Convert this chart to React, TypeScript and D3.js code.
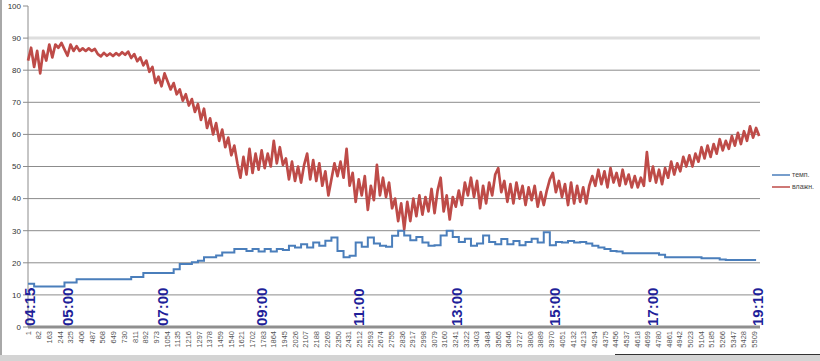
import React from "react";
import * as d3 from "d3";

const N_REC = 5550;
const HUM_STEP = 23;
const TEMP_STEP = 46;

// влажн. — sampled every 23 records
const humidity: number[] = [
  83, 87, 81, 86, 79, 86, 83, 88, 84, 88,
  87, 88.5, 86.5, 84.5, 88, 86, 87.5, 86, 86.8, 86,
  86.8, 86, 86.6, 85, 84.3, 85.4, 84.5, 85.2, 84.4, 85.3,
  84.6, 85.6, 84.8, 85.8, 83.8, 85, 82.8, 84, 81.5, 83,
  79.5, 81, 76, 78, 75, 79, 76.5, 74, 76, 72.5,
  74, 70.5, 72.5, 69, 71, 67, 69.5, 64.5, 68, 62,
  65, 60, 63.5, 58, 61.5, 56, 59, 53.5, 56.5, 51,
  46.5, 53, 47.5, 55.5, 48, 54, 49, 55, 49.5, 54,
  50, 58, 51, 56, 50.5, 52.5, 46, 51.5, 45.5, 50,
  45, 50.5, 54, 46, 52, 45.5, 51, 44, 48.5, 41,
  46, 51, 47, 51.5, 46.5, 55.5, 44, 48, 39, 46,
  41, 47, 36.5, 44, 39.5, 50.5, 41, 46.5, 40.5, 45,
  37, 40, 33, 38.5, 30.5, 39, 33, 40, 34.5, 41,
  35, 40.5, 36, 43, 35.5, 42.5, 46.5, 36, 41, 33.5,
  40.5, 37.5, 42.5, 38, 45, 41, 46.5, 40.5, 45.5, 37,
  44, 38.5, 45, 41, 47.5, 49.5, 42, 45.5, 39, 44.5,
  38.5, 45, 40, 44, 38, 43.5, 39.5, 44, 37.5, 42,
  38, 42.5, 46, 48, 42, 45.5, 40.5, 44.5, 38, 45,
  38.5, 44, 39, 43.5, 38.5, 44, 47, 44, 49, 44.5,
  48.5, 43.5, 49.5, 45, 48, 44, 49, 44.5, 47.5, 43.5,
  47, 43.5, 46.5, 44, 54.5, 45.5, 50, 45, 49, 44.5,
  49.5, 46.5, 51.5, 47.5, 51, 48.5, 53, 50, 53.5, 50,
  54, 51.5, 56, 52.5, 56.5, 53, 57, 54, 58.5, 55,
  58, 55.5, 59.5, 56.5, 60.5, 57, 61, 58, 62.5, 59, 62, 59.5,
];

// темп. — sampled every 46 records
const temperature: number[] = [
  13.5, 12.6, 12.6, 12.6, 12.6, 12.6, 13.9, 13.9, 14.9, 14.9,
  14.9, 14.9, 14.9, 14.9, 14.9, 14.9, 14.9, 15.6, 15.6, 16.8,
  16.8, 16.8, 16.8, 16.8, 18, 19.6, 19.6, 20.2, 20.6, 21.7,
  21.7, 22.3, 23.2, 23.2, 24.3, 24.3, 23.7, 24.3, 23.5, 24.3,
  23.5, 24.3, 24, 25.3, 24.8, 25.8, 24.8, 26.3, 25.3, 26.9,
  27.9, 23.7, 21.7, 22.2, 26.3, 25, 27.9, 26, 25.3, 25,
  28.4, 30, 28.5, 27, 28, 26.3, 25.3, 25.5, 28.5, 30,
  28, 26.5, 27.5, 25.3, 26, 28.5, 26.5, 25.8, 27.4, 25.8,
  26.8, 25.5, 26.5, 27.5, 26.3, 29.5, 25.5, 26.5, 26.3, 26.8,
  26.3, 26.5, 26, 25.3, 24.8, 24.3, 23.7, 23.5, 23, 23,
  23, 23, 23, 23, 22.5, 21.7, 21.7, 21.7, 21.7, 21.7,
  21.7, 21.4, 21.4, 21.4, 21, 20.9, 20.9, 20.9, 20.9, 20.9, 20.9,
];

const yTicks = [0, 10, 20, 30, 40, 50, 60, 70, 80, 90, 100];

const catLabels = [
  1, 82, 163, 244, 325, 406, 487, 568, 649, 730, 811, 892, 973, 1054, 1135, 1216,
  1297, 1378, 1459, 1540, 1621, 1702, 1783, 1864, 1945, 2026, 2107, 2188, 2269,
  2350, 2431, 2512, 2593, 2674, 2755, 2836, 2917, 2998, 3079, 3160, 3241, 3322,
  3403, 3484, 3565, 3646, 3727, 3808, 3889, 3970, 4051, 4132, 4213, 4294, 4375,
  4456, 4537, 4618, 4699, 4780, 4861, 4942, 5023, 5104, 5185, 5266, 5347, 5428, 5509,
];

const timeLabels = ["04:15", "05:00", "07:00", "09:00", "11:00", "13:00", "15:00", "17:00", "19:10"];
const timeRecords = [16, 304, 1024, 1775, 2510, 3253, 3996, 4739, 5535];

const seriesNames = ["темп.", "влажн."];
const seriesColors = ["#4a7ebb", "#be4b48"];

const FONT = "'Liberation Sans', Arial, sans-serif";

export default function App() {
  const left = 28, right = 760, top = 6, bottom = 327;
  const x = d3.scaleLinear().domain([0.5, N_REC + 0.5]).range([left, right]);
  const y = d3.scaleLinear().domain([0, 100]).range([bottom, top]);

  const humLine = d3
    .line<number>()
    .x((_, i) => x(1 + i * HUM_STEP))
    .y((d) => y(d));
  const tempLine = d3
    .line<number>()
    .x((_, i) => x(1 + i * TEMP_STEP))
    .y((d) => y(d))
    .curve(d3.curveStepAfter);

  return (
    <svg
      width={820}
      height={361}
      style={{ position: "absolute", left: 0, top: 0, background: "#fff" }}
      fontFamily={FONT}
    >
      <rect x={0} y={0} width={820} height={361} fill="#fff" />
      {/* gridlines */}
      {yTicks
        .filter((t) => t > 0 && t < 100)
        .map((t) => (
          <line
            key={"g" + t}
            x1={left}
            x2={right}
            y1={y(t)}
            y2={y(t)}
            stroke={t === 90 ? "#dedede" : "#8c8c8c"}
            strokeWidth={t === 90 ? 3 : 1}
          />
        ))}
      {/* y axis */}
      <line x1={left} x2={left} y1={top} y2={bottom} stroke="#8c8c8c" strokeWidth={1} />
      {yTicks.map((t) => (
        <g key={"yt" + t}>
          <line x1={left - 5} x2={left} y1={y(t)} y2={y(t)} stroke="#8c8c8c" />
          <text x={left - 7} y={y(t)} dy="0.35em" textAnchor="end" fontSize={8} fill="#333">
            {t}
          </text>
        </g>
      ))}
      {/* series */}
      <path d={tempLine(temperature) || ""} fill="none" stroke={seriesColors[0]} strokeWidth={2} />
      <path d={humLine(humidity) || ""} fill="none" stroke={seriesColors[1]} strokeWidth={2.7} strokeLinejoin="round" />
      {/* x axis bar */}
      <rect x={left} y={bottom - 1.5} width={right - left} height={3} fill="#8f8f8f" />
      {/* category labels */}
      {catLabels.map((c) => (
        <text
          key={"c" + c}
          transform={`translate(${x(c)},${bottom + 4}) rotate(-90)`}
          dy="0.35em"
          textAnchor="end"
          fontSize={7.5}
          fill="#555"
        >
          {c}
        </text>
      ))}
      {/* time labels */}
      {timeLabels.map((t, i) => (
        <text
          key={"t" + t}
          transform={`translate(${x(timeRecords[i])},${bottom - 1}) rotate(-90)`}
          dy="0.35em"
          textAnchor="start"
          fontSize={15}
          fontWeight="bold"
          fill="#1f1f99"
        >
          {t}
        </text>
      ))}
      {/* legend */}
      {seriesNames.map((n, i) => (
        <g key={"l" + n} transform={`translate(772,${175 + i * 12})`}>
          <line x1={0} x2={18} y1={0} y2={0} stroke={seriesColors[i]} strokeWidth={1.5} />
          <text x={20} y={0} dy="0.35em" fontSize={7} fill="#444">
            {n}
          </text>
        </g>
      ))}
      {/* window frame */}
      <rect x={0} y={0} width={2} height={361} fill="#a8a8a8" />
      <rect x={0} y={355} width={820} height={6} fill="#d4d4d4" />
      <line x1={615} x2={820} y1={354.5} y2={354.5} stroke="#333" strokeWidth={1} />
    </svg>
  );
}
